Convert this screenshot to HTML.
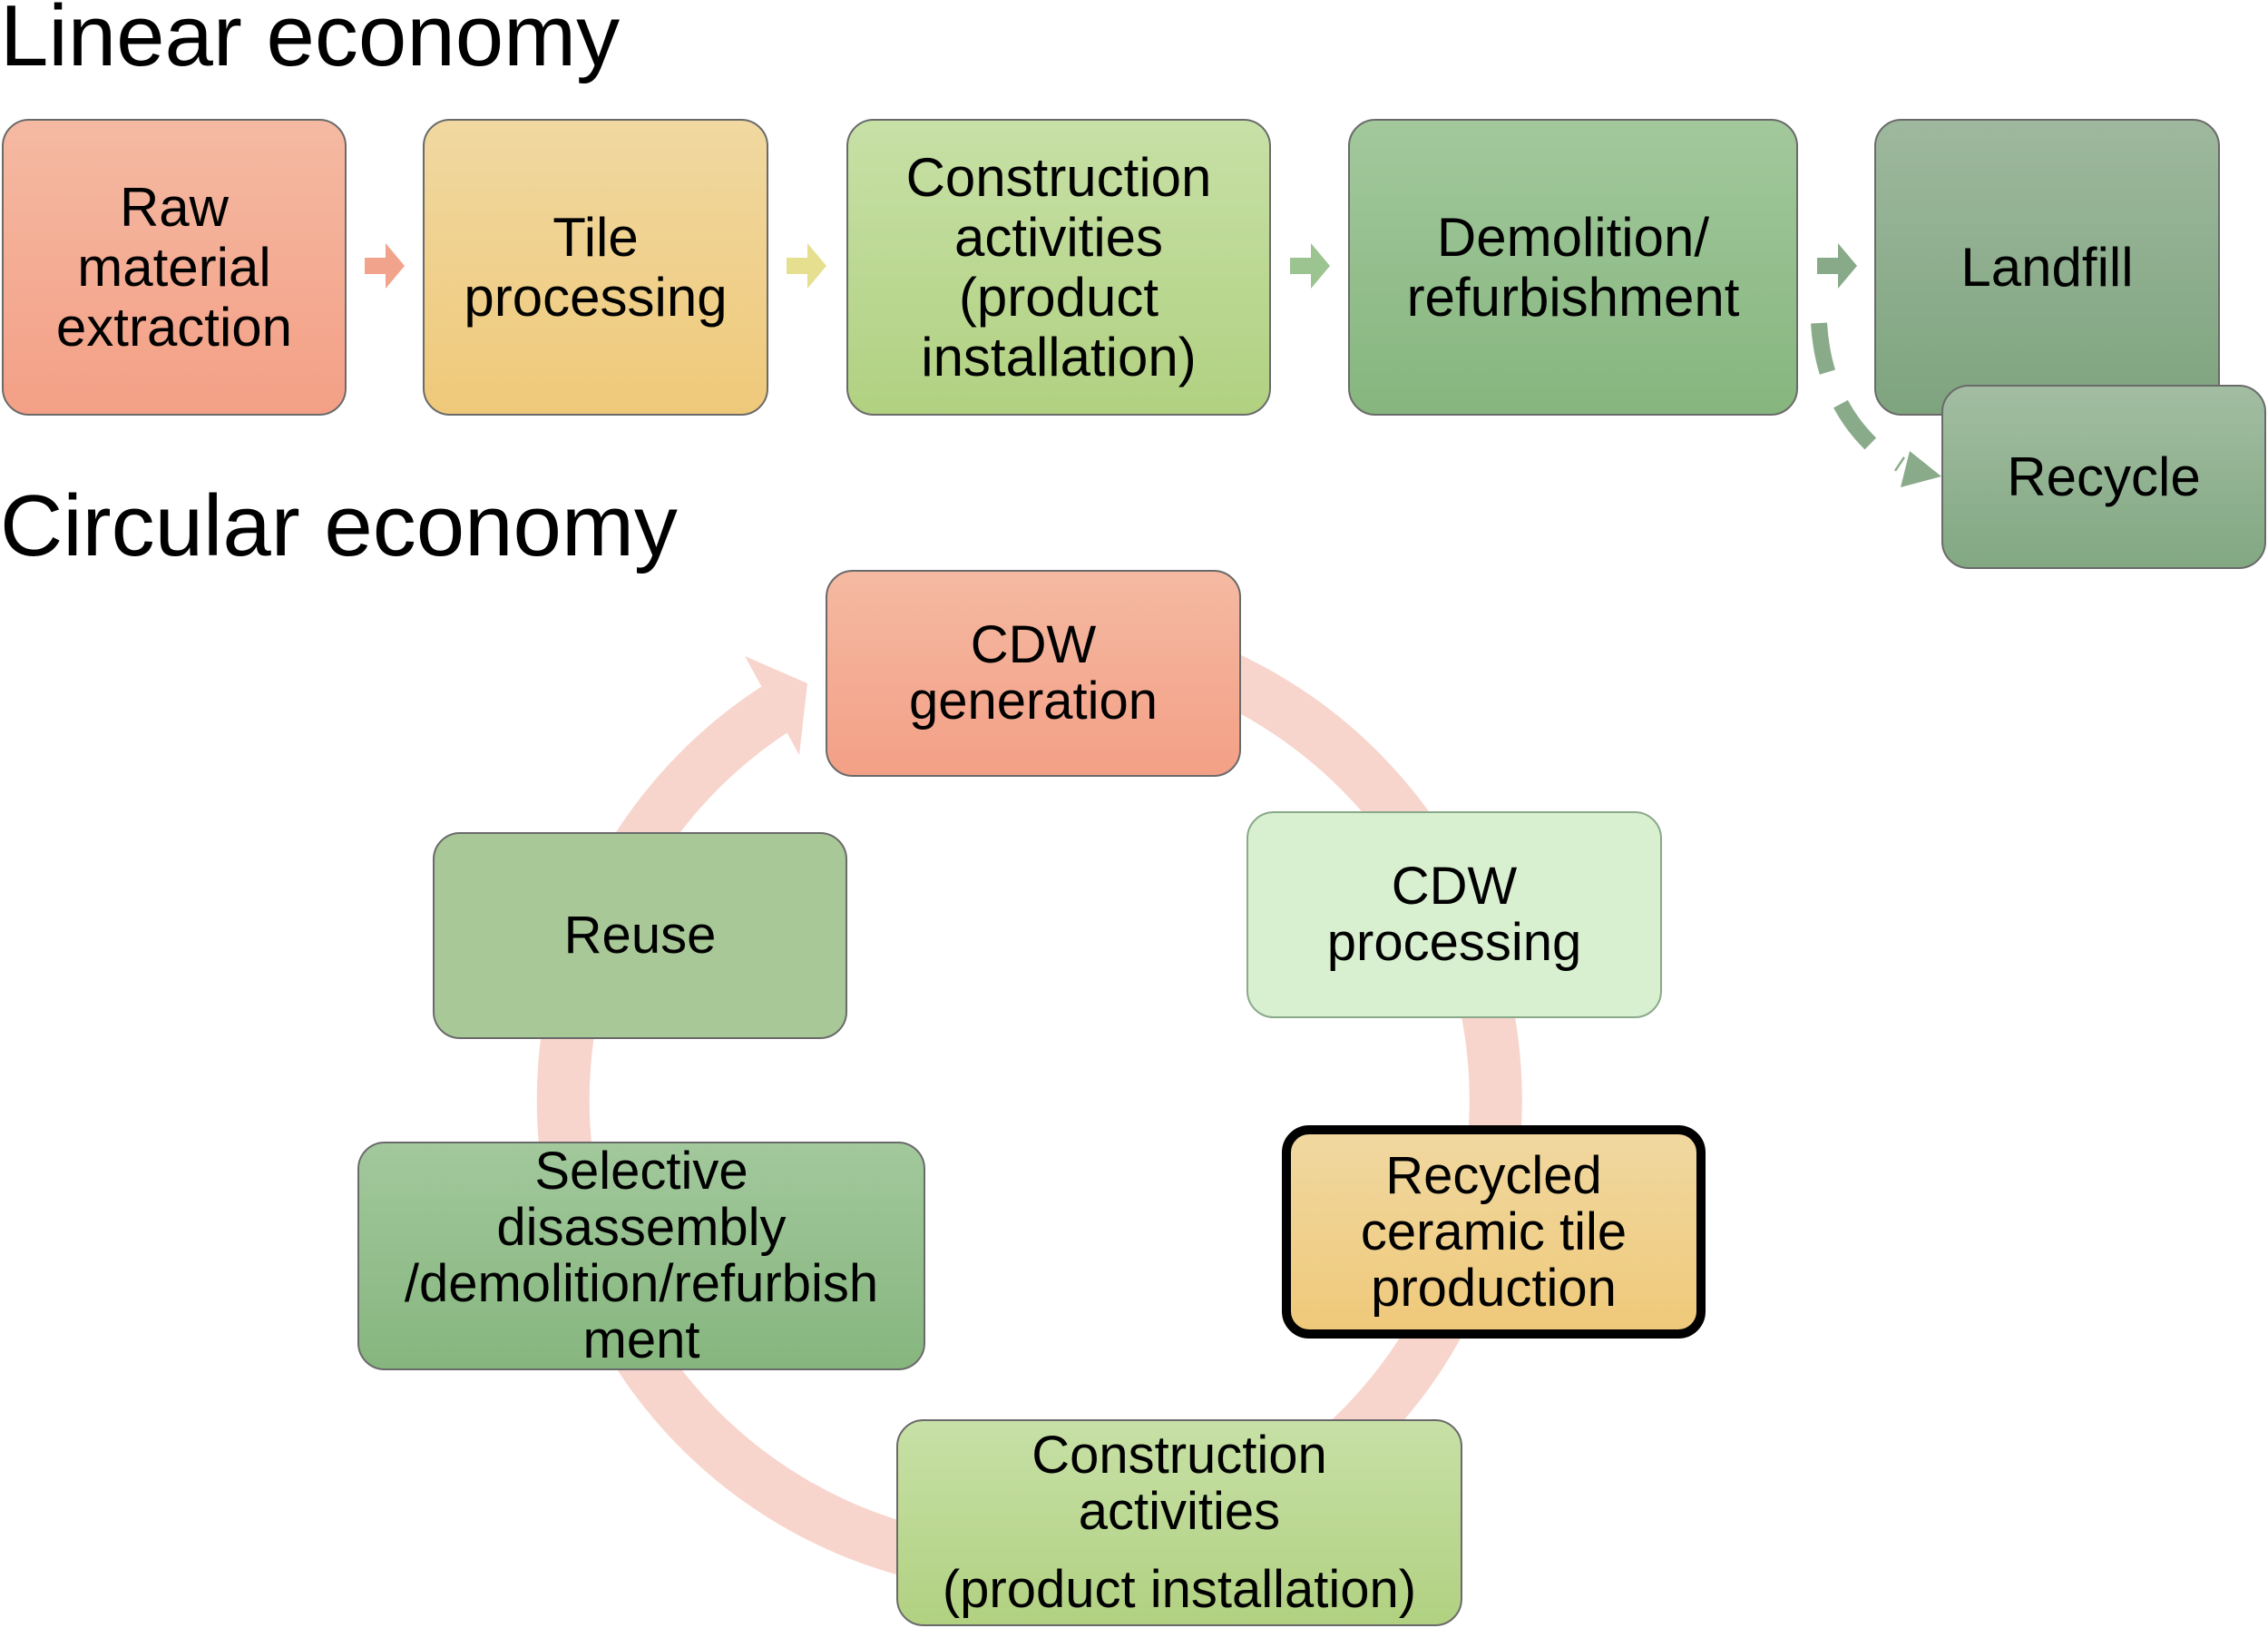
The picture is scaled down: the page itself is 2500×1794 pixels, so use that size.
<!DOCTYPE html>
<html><head><meta charset="utf-8"><style>
body{margin:0;width:2500px;height:1794px;background:#fff;position:relative;overflow:hidden;font-family:"Liberation Sans",sans-serif;}
.t{position:absolute;left:0;font-size:96px;color:#000;line-height:1;white-space:nowrap}
.b{position:absolute;box-sizing:border-box;border:2px solid #6a6a6a;border-radius:30px;display:flex;align-items:center;justify-content:center;text-align:center;font-size:60px;line-height:66px;color:#000}
.c{font-size:58px;line-height:62px}
svg{position:absolute;left:0;top:0}
</style></head><body>
<div class="t" style="top:-8px">Linear economy</div>
<div class="t" style="top:532px">Circular economy</div>

<svg width="2500" height="1794">
  <path d="M1224 706 A514 514 0 1 1 855 781" fill="none" stroke="#f8d5cc" stroke-width="58"/>
  <polygon points="890,753 821,723 881,832" fill="#f8d5cc"/>
  <!-- linear small arrows -->
  <polygon points="402,284 425,284 425,268 446,293 425,318 425,302 402,302" fill="#f2a38c"/>
  <polygon points="867,284 890,284 890,268 911,293 890,318 890,302 867,302" fill="#e6df90"/>
  <polygon points="1422,284 1445,284 1445,268 1466,293 1445,318 1445,302 1422,302" fill="#9cc490"/>
  <polygon points="2003,284 2026,284 2026,268 2047,293 2026,318 2026,302 2003,302" fill="#88aa88"/>
  <path d="M2005 356 Q2010 440 2065 492 L2095 512" fill="none" stroke="#8aab8a" stroke-width="18" stroke-dasharray="55,38"/>
  <polygon points="2140,525 2105,497 2095,537" fill="#8aab8a"/>
</svg>

<div class="b" style="left:2px;top:131px;width:380px;height:327px;background:linear-gradient(#f5b9a2,#f3a086)">Raw<br>material<br>extraction</div>
<div class="b" style="left:466px;top:131px;width:381px;height:327px;background:linear-gradient(#f0d8a0,#efc97a)">Tile<br>processing</div>
<div class="b" style="left:933px;top:131px;width:468px;height:327px;background:linear-gradient(#c7e0a6,#b1d181)">Construction<br>activities<br>(product<br>installation)</div>
<div class="b" style="left:1486px;top:131px;width:496px;height:327px;background:linear-gradient(#a2c89c,#86b67e)">Demolition/<br>refurbishment</div>
<div class="b" style="left:2066px;top:131px;width:381px;height:327px;background:linear-gradient(#9eb89e,#7ea47e)">Landfill</div>
<div class="b" style="left:2140px;top:424px;width:358px;height:203px;background:linear-gradient(#a2bda2,#82a882)">Recycle</div>

<div class="b c" style="left:910px;top:628px;width:458px;height:228px;background:linear-gradient(#f5b9a2,#f3a086)">CDW<br>generation</div>
<div class="b c" style="left:1374px;top:894px;width:458px;height:228px;background:#d8f0d0;border-color:#8aa88a">CDW<br>processing</div>
<div class="b c" style="left:1413px;top:1240px;width:467px;height:235px;border:10px solid #000;background:linear-gradient(#f0d8a0,#efc97a)">Recycled<br>ceramic tile<br>production</div>
<div class="b c" style="left:988px;top:1564px;width:624px;height:228px;background:linear-gradient(#c7e0a6,#b1d181);line-height:62px"><div>Construction<br>activities<br><span style="display:block;margin-top:24px">(product installation)</span></div></div>
<div class="b c" style="left:394px;top:1258px;width:626px;height:252px;background:linear-gradient(#a2c89c,#86b67e)">Selective<br>disassembly<br>/demolition/refurbish<br>ment</div>
<div class="b c" style="left:477px;top:917px;width:457px;height:228px;background:#a8c898">Reuse</div>
</body></html>
